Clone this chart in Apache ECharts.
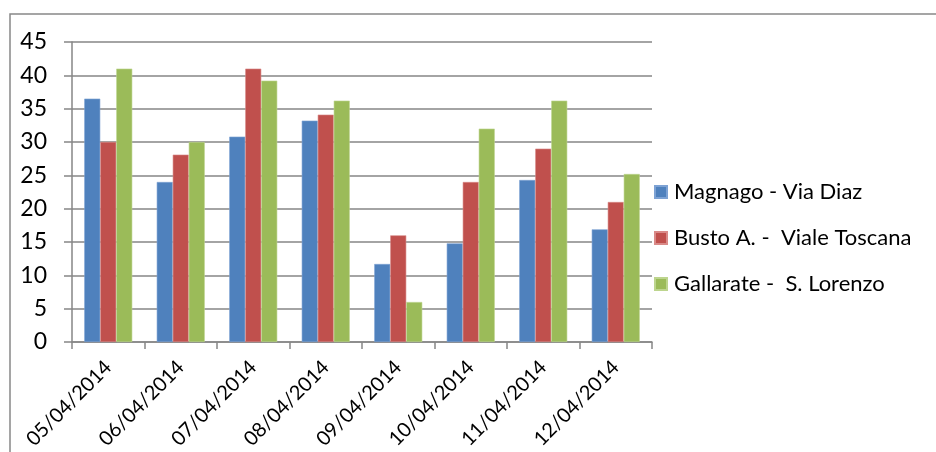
<!DOCTYPE html>
<html>
<head>
<meta charset="utf-8">
<script src="https://cdn.jsdelivr.net/npm/echarts@6/dist/echarts.min.js"></script>
<style>html,body{margin:0;padding:0;background:#fff;}#c{width:936px;height:452px;}</style>
</head>
<body>
<div id="c"></div>
<script>
const categories = ['05/04/2014','06/04/2014','07/04/2014','08/04/2014','09/04/2014','10/04/2014','11/04/2014','12/04/2014'];
const seriesNames = ['Magnago - Via Diaz','Busto A. -  Viale Toscana','Gallarate -  S. Lorenzo'];
const magnago = [36.5, 24, 30.8, 33.2, 11.7, 14.8, 24.3, 16.9];
const busto = [30, 28.1, 41, 34.1, 16, 24, 29, 21];
const gallarate = [41, 30, 39.2, 36.2, 6, 32, 36.2, 25.2];
const yTicks = {min: 0, max: 45, interval: 5};
const colors = ['#4F81BD', '#C0504D', '#9BBB59'];
const borders = ['#7DA2D4', '#D98A88', '#BDD58E'];

const chart = echarts.init(document.getElementById('c'), null, {renderer: 'canvas'});
const FONT = 'Lato';
const values = [magnago, busto, gallarate];
chart.setOption({
  animation: false,
  backgroundColor: '#fff',
  graphic: [{
    type: 'rect', shape: {x: 10, y: 14, width: 940, height: 460},
    style: {fill: 'none', stroke: '#888', lineWidth: 1.5}, silent: true, z: -1
  }],
  grid: {left: 72, right: 284, top: 42, bottom: 110, containLabel: false},
  legend: {
    orient: 'vertical', left: 649, top: 176,
    itemWidth: 12, itemHeight: 12, itemGap: 24,
    icon: 'rect',
    textStyle: {fontFamily: FONT, fontSize: 22, color: '#000', lineHeight: 22, padding: [0, 0, 0, 2]},
    data: seriesNames
  },
  xAxis: {
    type: 'category', data: categories,
    axisLine: {lineStyle: {color: '#868686', width: 1.5}},
    axisTick: {show: true, length: 7, lineStyle: {color: '#868686', width: 1.5}},
    axisLabel: {rotate: 45, margin: 22, fontFamily: FONT, fontSize: 20, color: '#000', interval: 0},
    splitLine: {show: false}
  },
  yAxis: {
    type: 'value', min: yTicks.min, max: yTicks.max, interval: yTicks.interval,
    axisLine: {show: true, lineStyle: {color: '#868686', width: 1.5}},
    axisTick: {show: true, inside: false, length: 8, lineStyle: {color: '#868686', width: 1.5}},
    axisLabel: {margin: 25, fontFamily: FONT, fontSize: 23, color: '#000'},
    splitLine: {show: true, lineStyle: {color: '#868686', width: 1.5}}
  },
  series: seriesNames.map((n, i) => ({
    name: n, type: 'bar', data: values[i],
    barWidth: 16, barGap: '0%',
    itemStyle: {color: colors[i], borderColor: borders[i], borderWidth: 0.6}
  }))
});
</script>
</body>
</html>
